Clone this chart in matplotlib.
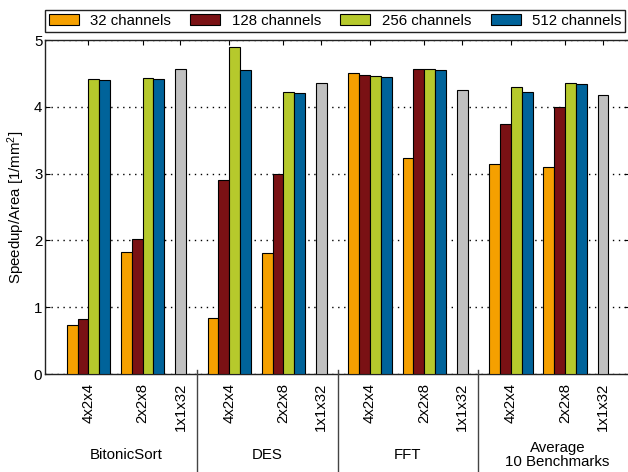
import numpy as np
import matplotlib.pyplot as plt

plt.rcParams['font.family'] = ['Liberation Sans', 'DejaVu Sans']
plt.rcParams['font.size'] = 10.8
plt.rcParams['mathtext.fontset'] = 'custom'
plt.rcParams['mathtext.rm'] = 'Liberation Sans'
plt.rcParams['mathtext.it'] = 'Liberation Sans'

# benchmarks and mesh configurations
benchmarks = ['BitonicSort', 'DES', 'FFT', 'Average\n10 Benchmarks']
configs = ['4x2x4', '2x2x8', '1x1x32']
channels = ['32 channels', '128 channels', '256 channels', '512 channels']

# speedup/area per benchmark, [4x2x4, 2x2x8]
ch32 = [[0.735, 1.82], [0.845, 1.81], [4.51, 3.23], [3.14, 3.10]]
ch128 = [[0.82, 2.02], [2.90, 2.99], [4.48, 4.57], [3.74, 4.00]]
ch256 = [[4.42, 4.43], [4.90, 4.22], [4.46, 4.56], [4.29, 4.35]]
ch512 = [[4.40, 4.42], [4.55, 4.21], [4.44, 4.55], [4.22, 4.34]]
# 1x1x32 single bar per benchmark
ch_single = [4.57, 4.36, 4.25, 4.17]

colors = ['#F5A000', '#7A1114', '#B6C92C', '#00639A']
gray = '#C0C0C0'

fig = plt.figure(figsize=(6.28, 4.72), dpi=100)
W, H = 628, 472
ax = fig.add_axes([45 / W, (H - 374) / H, 584 / W, 334 / H])

series = [ch32, ch128, ch256, ch512]
period = 13
tick_pos, tick_lab, group_centers = [], [], []
for g in range(len(benchmarks)):
    x0 = 2 + period * g
    for c in range(2):
        for k, vals in enumerate(series):
            ax.bar(x0 + 5 * c + k, vals[g][c], width=1, align='edge',
                   color=colors[k], edgecolor='black', linewidth=0.8,
                   label=channels[k] if (g == 0 and c == 0) else None, zorder=3)
        tick_pos.append(x0 + 5 * c + 2)
        tick_lab.append(configs[c])
    ax.bar(x0 + 10, ch_single[g], width=1, align='edge', color=gray,
           edgecolor='black', linewidth=0.8, zorder=3)
    tick_pos.append(x0 + 10.5)
    tick_lab.append(configs[2])
    group_centers.append(x0 + 5.5 if g < len(benchmarks) - 1 else x0 + 6.3)
    # group separator below the axis
    if g > 0:
        xs = x0 - 1
        ax.plot([xs, xs], [0.012, -0.3], color='#444444', lw=1.0,
                transform=ax.get_xaxis_transform(), clip_on=False, zorder=4)

for xc, name in zip(group_centers, benchmarks):
    ax.text(xc, -0.2425, name, transform=ax.get_xaxis_transform(),
            ha='center', va='center', linespacing=1.0)

ax.set_xlim(0, 53.9)
ax.set_ylim(0, 5)
ax.set_yticks(range(6))
ax.set_xticks(tick_pos)
ax.set_xticklabels(tick_lab, rotation=90)
ax.tick_params(axis='x', direction='in', length=3.5, bottom=False, top=True,
               labelbottom=True, pad=6.5)
ax.tick_params(axis='y', direction='in', length=3.5, left=True, right=True, pad=2)
ax.yaxis.grid(True, linestyle=(0, (1, 3.3)), color='black', lw=1.0)
ax.set_axisbelow(True)
for s in ax.spines.values():
    s.set_color('#222222')
    s.set_linewidth(1.0)

ax.set_ylabel(r'Speedup/Area [1/mm$^2$]', labelpad=4.5)

leg = ax.legend(loc='upper left', bbox_to_anchor=(45 / W, 1 - 10 / H),
                bbox_transform=fig.transFigure, borderaxespad=0, ncol=4,
                fancybox=False, edgecolor='#222222', framealpha=1,
                handlelength=2.0, handleheight=0.67, handletextpad=0.78,
                columnspacing=1.27, borderpad=0.25)
leg.get_frame().set_linewidth(1.0)

fig.savefig('out.png', dpi=100)
